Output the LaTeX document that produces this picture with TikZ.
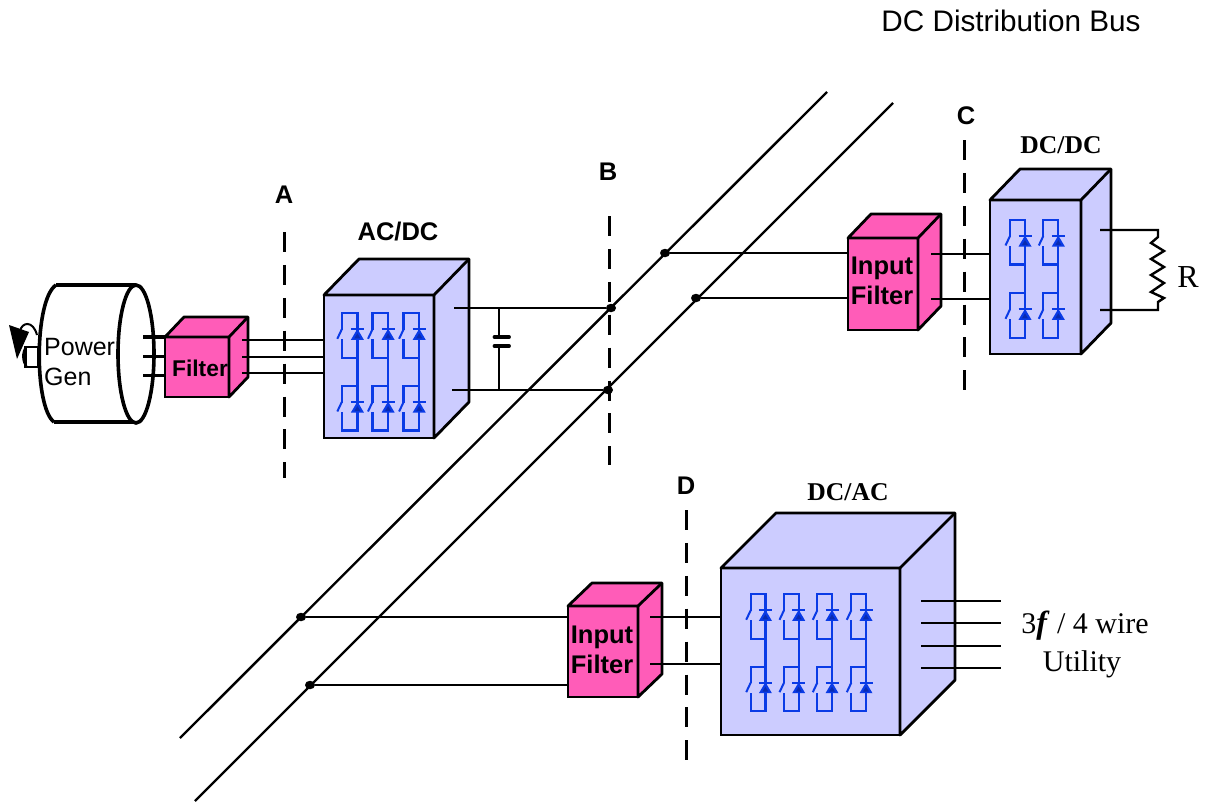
\documentclass[tikz,border=0pt]{standalone}
\usepackage{fontspec}
\setmainfont{Liberation Serif}
\setsansfont{Liberation Sans}
\definecolor{boxblue}{HTML}{CCCCFF}
\definecolor{boxpink}{HTML}{FF5CB8}
\definecolor{swblue}{HTML}{0A3BE6}
\definecolor{swdark}{HTML}{0A2BB0}
\tikzset{
  x=1pt,y=-1pt,
  wire/.style={line width=2.4pt,black},
  thickwire/.style={line width=3.4pt,black},
  busline/.style={line width=2.4pt,black},
  cutline/.style={line width=3pt,black,dash pattern=on 20pt off 12.9pt},
  genline/.style={line width=3.6pt,black},
  face/.style={draw=black,line width=2.8pt,line join=round},
  junction/.style={ellipse,fill=black,inner sep=0pt,minimum width=10pt,minimum height=8.5pt},
  sflabel/.style={font=\sffamily\fontsize{25}{29}\selectfont,inner sep=0pt},
  boldsf/.style={font=\sffamily\bfseries\fontsize{25.5}{29}\selectfont,inner sep=0pt,align=center},
  boldsfsmall/.style={font=\sffamily\bfseries\fontsize{22.8}{26}\selectfont,inner sep=0pt,align=center},
  boldrm/.style={font=\rmfamily\bfseries\fontsize{25.6}{29}\selectfont,inner sep=0pt},
  rmlabel/.style={font=\rmfamily\fontsize{30}{34}\selectfont,inner sep=0pt},
  swline/.style={line width=2.3pt,swblue},
}
\newcommand{\cubenode}[9]{%
  \pgfmathsetmacro{\cw}{#4-#2}\pgfmathsetmacro{\ch}{#5-#3}%
  \pgfmathsetmacro{\cx}{(#2+#4)/2}\pgfmathsetmacro{\cy}{(#3+#5)/2}%
  \node[draw=black,fill=#8,line width=2.8pt,inner sep=0pt,outer sep=0pt,
        minimum width=\cw pt,minimum height=\ch pt,#9] (#1) at (\cx,\cy) {};
  \draw[face,fill=#8] (#1.north west) -- ++(#6,-#7) -- ($(#1.north east)+(#6,-#7)$)
     -- ($(#1.south east)+(#6,-#7)$) -- (#1.south east) -- (#1.north east) -- cycle;
  \draw[face] (#1.north east) -- ++(#6,-#7);
}
\newcommand{\swcell}[3]{%
  \begin{scope}[shift={(#1,#2)}]
    \draw[swline,line join=miter] (0,16.5) -- (0,0) -- (#3,0) -- (#3,44.5) -- (0,44.5) -- (0,26);
    \draw[swline,line width=2pt] (0,16) -- (-4.5,25.5);
    \draw[swline,line width=2pt] (#3-6.5,16) -- (#3+6.5,16);
    \fill[swblue] (#3,15.5) -- (#3-6.5,26.5) -- (#3+6.5,26.5) -- cycle;
    \fill[swdark] (#3,20) -- (#3-3,25) -- (#3+3,25) -- cycle;
  \end{scope}}
\newcommand{\swleg}[4]{%
  \swcell{#1}{#2}{#4}
  \swcell{#1}{#3}{#4}
  \draw[swline] ({#1+#4},{#2+44}) -- ({#1+#4},#3);
}
\usetikzlibrary{calc,shapes.geometric}
\begin{document}
\begin{tikzpicture}
\useasboundingbox (0,0) rectangle (1210,803);

% bus lines
\coordinate (busAa) at (180,738); \coordinate (busAb) at (827,92);
\coordinate (busBa) at (195,801); \coordinate (busBb) at (893,103);
\draw[busline] (busAa) -- (busAb);
\draw[busline] (busBa) -- (busBb);

% generator
\coordinate (gtl) at (56,285); \coordinate (gtr) at (136,285);
\coordinate (gbl) at (54,422); \coordinate (gbr) at (134,422);
\draw[genline] (gtl) -- (gtr);
\draw[genline] (gbl) -- (gbr);
\draw[genline] (gtl) .. controls (34,300) and (34,407) .. (gbl);
\draw[genline,fill=white] (136,354) ellipse [x radius=18,y radius=69];
\node[draw=black,line width=2.6pt,fill=white,inner sep=0pt,minimum width=13pt,minimum height=20pt] (shaft) at (32,357) {};
\draw[line width=2pt] (27,367) .. controls (22,362) and (22,352) .. (26,347);
\draw[line width=2pt] (20,331) .. controls (22,322) and (33,320) .. (37,335);
\fill (9,325) -- (29,332) -- (17,359) -- cycle;
\node[sflabel,anchor=base west] (powerlab) at (44,355) {Power};
\node[sflabel,anchor=base west] (genlab) at (44,385) {Gen};

% wires generator to filter
\coordinate (ga1) at (143,337); \coordinate (ga2) at (143,356.5); \coordinate (ga3) at (143,375.5);
\draw[thickwire] (ga1) -- (170,337);
\draw[thickwire] (ga2) -- (170,356.5);
\draw[thickwire] (ga3) -- (170,375.5);

% Filter cube
\cubenode{filt}{165}{337}{229}{397}{19}{20}{boxpink}{}
\node[boldsfsmall] (filttext) at (200,368) {Filter};

% AC/DC cube and wires
\cubenode{acdc}{324}{295}{434}{438}{35}{36}{boxblue}{}
\coordinate (fo1) at (242,340); \coordinate (fo2) at (242,357); \coordinate (fo3) at (242,373);
\draw[wire] (fo1) -- (acdc.west |- fo1);
\draw[wire] (fo2) -- (acdc.west |- fo2);
\draw[wire] (fo3) -- (acdc.west |- fo3);
\swleg{341.8}{313.3}{386}{15.6}
\swleg{372.5}{313.3}{386}{15.6}
\swleg{403.6}{313.3}{386}{15.6}

% junctions on the bus
\node[junction] (jB1) at (611,308) {};
\node[junction] (jB2) at (608,390) {};
\node[junction] (jC1) at (665,253) {};
\node[junction] (jC2) at (696,298) {};
\node[junction] (jD1) at (301,617) {};
\node[junction] (jD2) at (310,685) {};

% AC/DC output and capacitor
\coordinate (ac1) at (454,308); \coordinate (ac2) at (452,390);
\draw[wire] (ac1) -- (jB1);
\draw[wire] (ac2) -- (jB2);
\coordinate (cap1) at (499,308); \coordinate (cap2) at (499,390);
\coordinate (capa) at (499,337); \coordinate (capb) at (499,346);
\draw[wire] (cap1) -- (capa);
\draw[wire] (capb) -- (cap2);
\draw[line width=3.8pt,line cap=round] (494.5,337) -- (509,337);
\draw[line width=3.8pt,line cap=round] (494.5,346) -- (509,346);

% Input filter C
\cubenode{ifc}{848}{238}{918}{330}{23}{24}{boxpink}{}
\node[boldsf] (ifctext) at (882,281) {Input\\[1pt]Filter};
\draw[wire] (jC1) -- (ifc.west |- jC1);
\draw[wire] (jC2) -- (ifc.west |- jC2);

% DC/DC cube
\cubenode{dcdc}{990}{200}{1081}{354}{30}{31}{boxblue}{}
\coordinate (ic1) at (931,254); \coordinate (ic2) at (931,299);
\draw[wire] (ic1) -- (dcdc.west |- ic1);
\draw[wire] (ic2) -- (dcdc.west |- ic2);
\swleg{1010}{220}{293.3}{15}
\swleg{1043.3}{220}{293.3}{15}

% resistor
\coordinate (r1) at (1100,230); \coordinate (r2) at (1100,310);
\draw[wire,line join=miter] (r1) -- (1158,230) -- (1158,237) -- (1151,243) -- (1164,251) -- (1151,259) -- (1164,267) -- (1151,275) -- (1164,283) -- (1151,292) -- (1164,298) -- (1158,302) -- (1158,310) -- (r2);
\node[font=\rmfamily\fontsize{32}{34}\selectfont,inner sep=0pt] (rlab) at (1188,277) {R};

% Input filter D
\cubenode{ifd}{568}{606}{638}{697}{24}{23}{boxpink}{}
\node[boldsf] (ifdtext) at (602,650) {Input\\[1pt]Filter};
\draw[wire] (jD1) -- (ifd.west |- jD1);
\draw[wire] (jD2) -- (ifd.west |- jD2);

% DC/AC cube
\cubenode{dcac}{721}{568}{900}{735}{55}{55}{boxblue}{}
\coordinate (id1) at (650,617); \coordinate (id2) at (650,664);
\draw[wire] (id1) -- (dcac.west |- id1);
\draw[wire] (id2) -- (dcac.west |- id2);
\swleg{750.7}{594.3}{666.7}{14.7}
\swleg{784}{594.3}{666.7}{14.7}
\swleg{817.3}{594.3}{666.7}{14.7}
\swleg{851.3}{594.3}{666.7}{14.7}
\foreach \yy/\nn in {601/a,623/b,646/c,668/d}{
  \coordinate (ua\nn) at (921,\yy);
  \coordinate (ub\nn) at (1001,\yy);
  \draw[wire] (ua\nn) -- (ub\nn);
}

% dashed cut lines
\coordinate (ca1) at (284,232); \coordinate (ca2) at (284,478);
\coordinate (cb1) at (609,216); \coordinate (cb2) at (609,465);
\coordinate (cc1) at (964,140); \coordinate (cc2) at (964,390);
\coordinate (cd1) at (686,510); \coordinate (cd2) at (686,760);
\draw[cutline] (ca1) -- (ca2);
\draw[cutline] (cb1) -- (cb2);
\draw[cutline] (cc1) -- (cc2);
\draw[cutline] (cd1) -- (cd2);

% labels
\node[font=\sffamily\fontsize{29.7}{33}\selectfont,inner sep=0pt] (title) at (1011,21) {DC Distribution Bus};
\node[boldsf] (la) at (284,195) {A};
\node[boldsf] (lb) at (608,172) {B};
\node[boldsf] (lc) at (966,116) {C};
\node[boldsf] (ld) at (686,486) {D};
\node[boldsf] (lacdc) at (398,232) {AC/DC};
\node[boldrm] (ldcdc) at (1061,145) {DC/DC};
\node[boldrm] (ldcac) at (848,492) {DC/AC};
\node[rmlabel,anchor=base] (l3f) at (1085,633) {3{\fontsize{32}{34}\selectfont\textbf{\textit{f}}} / 4 wire};
\node[rmlabel,anchor=base] (lutil) at (1082,671) {Utility};
\end{tikzpicture}
\end{document}
